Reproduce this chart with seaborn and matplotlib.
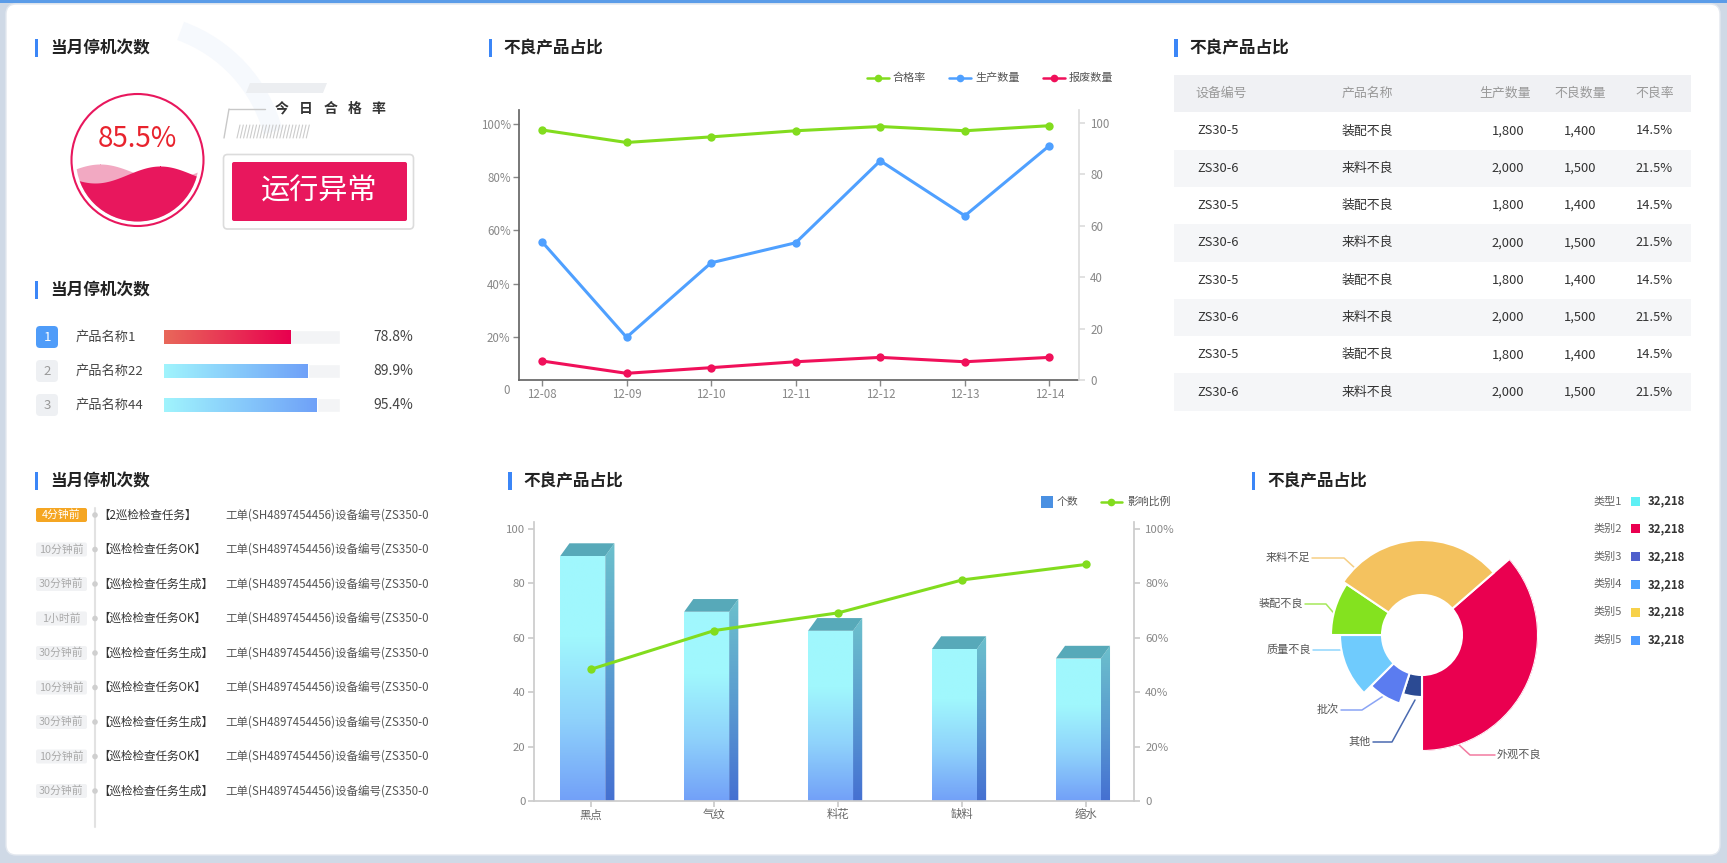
import numpy as np
import matplotlib
matplotlib.use('Agg')
import matplotlib.pyplot as plt
import seaborn as sns
from matplotlib.patches import Rectangle, FancyBboxPatch, Polygon, Circle, Arc
from matplotlib.colors import LinearSegmentedColormap

# ========== 1. 数据 ==========
pass_rate_today = 85.5
status_text = '运行异常'

rank_names = ['产品名称1', '产品名称22', '产品名称44']
rank_values = [78.8, 89.9, 95.4]

dates = ['12-08', '12-09', '12-10', '12-11', '12-12', '12-13', '12-14']
series_names = ['合格率', '生产数量', '报废数量']
pass_rate = [97.7, 93.0, 95.1, 97.4, 99.0, 97.4, 99.3]
prod_qty = [53.8, 16.6, 45.6, 53.4, 85.3, 63.9, 91.2]
scrap_qty = [7.4, 2.6, 4.8, 7.1, 8.8, 7.1, 8.8]

table_cols = ['设备编号', '产品名称', '生产数量', '不良数量', '不良率']
device_ids = ['ZS30-5', 'ZS30-6'] * 4
product_names = ['装配不良', '来料不良'] * 4
produced = ['1,800', '2,000'] * 4
defects = ['1,400', '1,500'] * 4
defect_rates = ['14.5%', '21.5%'] * 4

log_times = ['4分钟前', '10分钟前', '30分钟前', '1小时前', '30分钟前',
             '10分钟前', '30分钟前', '10分钟前', '30分钟前']
log_tasks = ['【2巡检检查任务】', '【巡检检查任务OK】', '【巡检检查任务生成】',
             '【巡检检查任务OK】', '【巡检检查任务生成】', '【巡检检查任务OK】',
             '【巡检检查任务生成】', '【巡检检查任务OK】', '【巡检检查任务生成】']
log_detail = '工单(SH4897454456)设备编号(ZS350-0'

defect_types = ['黑点', '气纹', '料花', '缺料', '缩水']
bar_series = ['个数', '影响比例']
defect_counts = [90.1, 69.6, 62.6, 55.9, 52.4]
impact_ratio = [48.4, 62.7, 69.2, 81.3, 87.0]

rose_names = ['外观不良', '其他', '批次', '质量不良', '装配不良', '来料不足']
rose_share = [131, 18, 27, 45, 34, 105]
rose_radius_value = [116, 62, 72, 82, 91, 95]

legend_names = ['类型1', '类别2', '类别3', '类别4', '类别5', '类别5']
legend_values = ['32,218'] * 6

# ========== 2. 样式 ==========
GREEN = '#82dc1e'
BLUE = '#4fa0ff'
RED = '#f0105a'
CRIMSON = '#e8175d'
rose_colors = ['#ea0050', '#2b4a93', '#5b7cf0', '#6fcbfd', '#84e21f', '#f4c25f']
rose_lead_colors = ['#f27aa0', '#4a6ab0', '#8aa4f5', '#8fd6fd', '#a5e85a', '#f6cf85']
legend_colors = ['#5ef0f5', '#ea0050', '#4f5fcc', '#4da3ff', '#f7d14a', '#4d9bff']

sns.set_theme(style='white')
plt.rcParams['font.family'] = ['Noto Sans CJK SC', 'DejaVu Sans']
plt.rcParams['axes.unicode_minus'] = False

W, H = 1727, 863
fig = plt.figure(figsize=(W / 100, H / 100), dpi=100)
fig.patch.set_facecolor('#cfd9e6')


def frac(x0, y0, x1, y1):
    return [x0 / W, 1 - y1 / H, (x1 - x0) / W, (y1 - y0) / H]


def gradient(ax, clip, extent, colors, vertical=True, z=2):
    cmap = LinearSegmentedColormap.from_list('g', colors)
    ramp = np.linspace(0, 1, 256)
    img = ramp.reshape(-1, 1) if vertical else ramp.reshape(1, -1)
    im = ax.imshow(img, cmap=cmap, extent=extent, origin='lower',
                   aspect='auto', zorder=z, interpolation='bilinear')
    im.set_clip_path(clip)
    return im


bg = fig.add_axes([0, 0, 1, 1])
bg.set_xlim(0, W)
bg.set_ylim(H, 0)
bg.axis('off')
bg.add_patch(FancyBboxPatch((6, 4), W - 13, H - 12, boxstyle='round,pad=0,rounding_size=10',
                            fc='white', ec='#e3e8ef', lw=1))
bg.add_patch(Rectangle((0, 0), W, 3, fc='#5b9ce8', ec='none'))


def panel_title(x, y, text):
    bg.add_patch(Rectangle((x, y - 9), 3.5, 18, fc='#3b86f7', ec='none'))
    bg.text(x + 15, y, text, fontsize=12, weight='bold', color='#222', va='center', ha='left')


panel_title(35, 48, '当月停机次数')
panel_title(35, 290, '当月停机次数')
panel_title(35, 481, '当月停机次数')
panel_title(488.6, 48, '不良产品占比')
panel_title(508.5, 481, '不良产品占比')
panel_title(1174.5, 48, '不良产品占比')
panel_title(1252, 481, '不良产品占比')

# ========== 3. 今日合格率 ==========
bg.add_patch(Arc((130, 170), 296, 296, theta1=290, theta2=345, color='#f6f9fd', lw=14))
cx, cy = 137.5, 160
bg.add_patch(Circle((cx, cy), 66, fill=False, ec=CRIMSON, lw=1.5))
inner = Circle((cx, cy), 61.5, fc='none', ec='none')
bg.add_patch(inner)
xs = np.linspace(cx - 66, cx + 66, 300)
wave_back = 172 - 8 * np.cos(2 * np.pi * (xs - 100) / 130)
wave_front = 174.5 - 8.5 * np.cos(2 * np.pi * (xs - 160) / 130)
f1 = bg.fill_between(xs, wave_back, cy + 70, color='#f2a9c2', lw=0)
f2 = bg.fill_between(xs, wave_front, cy + 70, color=CRIMSON, lw=0)
f1.set_clip_path(inner)
f2.set_clip_path(inner)
bg.text(cx, 139, f'{pass_rate_today}%', fontsize=20, color='#e8232d', ha='center', va='center')

bg.add_patch(Polygon([(250, 83), (327, 83), (323, 93), (246, 93)], fc='#eceef1', ec='none'))
bg.plot([229, 265], [109, 109], color='#c8c8c8', lw=1)
bg.plot([229, 224], [109, 138], color='#c8c8c8', lw=1)
for i in range(22):
    hx = 237 + 3.3 * i
    bg.plot([hx, hx + 3], [138, 125], color='#cccccc', lw=0.8)
for i, ch in enumerate('今日合格率'):
    bg.text(282 + 24.2 * i, 109, ch, fontsize=10, weight='bold', color='#333', ha='center', va='center')
bg.add_patch(FancyBboxPatch((223.5, 154.5), 190, 74.5, boxstyle='round,pad=0,rounding_size=4',
                            fill=False, ec='#dcdcdc', lw=1.2))
bg.add_patch(FancyBboxPatch((232, 162), 175, 59, boxstyle='round,pad=0,rounding_size=2',
                            fc=CRIMSON, ec='none'))
bg.text(319.5, 192, status_text, fontsize=21, color='white', ha='center', va='center')

# ========== 4. 产品排行进度条 ==========
axr = fig.add_axes(frac(164, 320, 340, 422))
sns.barplot(x=[110] * len(rank_names), y=rank_names, ax=axr, width=0.41, color='#f3f4f6', orient='h')
sns.barplot(x=rank_values, y=rank_names, ax=axr, width=0.41, color='#cccccc', orient='h')
value_bars = axr.patches[len(rank_names):]
for i, p in enumerate(value_bars):
    cols = ['#e8685a', '#e8004f'] if i == 0 else ['#a0f4fd', '#6fa1f8']
    gradient(axr, p, (p.get_x(), p.get_x() + p.get_width(), p.get_y(), p.get_y() + p.get_height()),
             cols, vertical=False, z=3)
    p.set_facecolor('none')
axr.set_xlim(0, 110)
axr.set_ylim(len(rank_names) - 0.5, -0.5)
axr.axis('off')
for i, (name, val) in enumerate(zip(rank_names, rank_values)):
    ry = 337 + 34 * i
    bg.add_patch(FancyBboxPatch((36, ry - 11), 22, 22, boxstyle='round,pad=0,rounding_size=4',
                                fc='#4f9cf9' if i == 0 else '#eef0f3', ec='none'))
    bg.text(47, ry, str(i + 1), fontsize=9.5, color='white' if i == 0 else '#999',
            ha='center', va='center')
    bg.text(76, ry, name, fontsize=9.5, color='#444', ha='left', va='center')
    bg.text(413, ry, f'{val}%', fontsize=10, color='#444', ha='right', va='center')

# ========== 5. 折线图 ==========
ax1 = fig.add_axes(frac(519, 110, 1079, 380))
ax1.patch.set_alpha(0)
x_pos = np.arange(len(dates))
sns.lineplot(x=x_pos, y=pass_rate, ax=ax1, color=GREEN, lw=2.2, marker='o', markersize=6,
             markeredgewidth=0)
ax1.set_xlim(-0.272, 6.35)
# 左轴的 0 落在 x 轴线下方约 10px
ax1.set_ylim(3.76, 105.2)
ax1.set_yticks([20, 40, 60, 80, 100], [f'{v}%' for v in [20, 40, 60, 80, 100]])
ax1.set_xticks(x_pos, dates)
ax1.text(-0.017, 0, '0', transform=ax1.get_yaxis_transform(), ha='right', va='center',
         fontsize=8.3, color='#888', clip_on=False)
ax2 = ax1.twinx()
sns.lineplot(x=x_pos, y=prod_qty, ax=ax2, color=BLUE, lw=2.2, marker='o', markersize=6,
             markeredgewidth=0)
sns.lineplot(x=x_pos, y=scrap_qty, ax=ax2, color=RED, lw=2.2, marker='o', markersize=6,
             markeredgewidth=0)
ax2.set_ylim(0, 105.06)
ax2.set_yticks([0, 20, 40, 60, 80, 100])
for a in (ax1, ax2):
    a.set_xlabel('')
    a.set_ylabel('')
    a.spines['top'].set_visible(False)
ax1.spines['right'].set_visible(False)
ax1.spines['left'].set_color('#666')
ax1.spines['bottom'].set_color('#666')
ax2.spines['left'].set_visible(False)
ax2.spines['bottom'].set_visible(False)
ax2.spines['right'].set_color('#dddddd')
ax1.tick_params(axis='both', labelsize=8.3, labelcolor='#888', color='#888', length=4, width=1,
                direction='out', pad=2, left=True, bottom=True)
ax2.tick_params(axis='y', labelsize=8.3, labelcolor='#888', color='#dddddd', length=4,
                direction='out', pad=4, right=True)
for name, col, lx in zip(series_names, [GREEN, BLUE, RED], [867, 949.5, 1043]):
    bg.plot([lx, lx + 22], [78, 78], color=col, lw=1.8)
    bg.plot(lx + 11, 78, 'o', color=col, ms=5.5, mew=0)
    bg.text(lx + 26, 78, name, fontsize=8, color='#555', va='center', ha='left')

# ========== 6. 表格 ==========
bg.add_patch(Rectangle((1174, 75), 517, 37, fc='#f0f1f4', ec='none'))
head_x = [1195, 1342, 1531, 1606, 1674]
data_x = [1197, 1342, 1524, 1596, 1673]
col_ha = ['left', 'left', 'right', 'right', 'right']
for hx, ha, name in zip(head_x, col_ha, table_cols):
    bg.text(hx, 93.5, name, fontsize=9.3, color='#999', ha=ha, va='center')
rows = list(zip(device_ids, product_names, produced, defects, defect_rates))
for i, row in enumerate(rows):
    ry = 131 + 37.3 * i
    if i % 2 == 1:
        bg.add_patch(Rectangle((1174, ry - 18.65), 517, 37.3, fc='#f5f6f8', ec='none'))
    for dx, ha, val in zip(data_x, col_ha, row):
        bg.text(dx, ry, val, fontsize=9.3, color='#333', ha=ha, va='center')

# ========== 7. 巡检记录 ==========
bg.plot([95, 95], [508, 827], color='#e2e2e2', lw=1.5, zorder=1)
for i, (t, task) in enumerate(zip(log_times, log_tasks)):
    ry = 515 + 34.5 * i
    bg.add_patch(FancyBboxPatch((36, ry - 7), 51, 14, boxstyle='round,pad=0,rounding_size=2',
                                fc='#f5a623' if i == 0 else '#f1f2f4', ec='none'))
    bg.text(61.5, ry, t, fontsize=7.8, color='white' if i == 0 else '#aaa', ha='center', va='center')
    bg.add_patch(Circle((95, ry), 2.8, fc='#cfcfcf', ec='none', zorder=2))
    bg.text(98, ry, task, fontsize=8.3, color='#333', ha='left', va='center')
    bg.text(225, ry, log_detail, fontsize=8.3, color='#555', ha='left', va='center')

# ========== 8. 柱状图 ==========
ax3 = fig.add_axes(frac(533.7, 522, 1134, 801))
ax3.patch.set_alpha(0)
cat_pos = np.arange(len(defect_types))
sns.barplot(x=cat_pos, y=defect_counts, ax=ax3, width=0.363, color='#8ccafa')
dx3, dy3 = 0.074, 4.67
for p in list(ax3.patches):
    p.set_x(p.get_x() - 0.063)
    x0, w, h = p.get_x(), p.get_width(), p.get_height()
    r = x0 + w
    gradient(ax3, p, (x0, r, 0, h), ['#72a0f8', '#8fd2fb', '#a0f7fd', '#a0f8fd'], z=2)
    p.set_facecolor('none')
    p.set_edgecolor('none')
    side = Polygon([(r, 0), (r, h), (r + dx3, h + dy3), (r + dx3, 0)], fc='none', ec='none')
    ax3.add_patch(side)
    gradient(ax3, side, (r, r + dx3, 0, h + dy3), ['#4570d2', '#5a9cd0', '#6cc0cc'], z=2)
    ax3.add_patch(Polygon([(x0, h), (r, h), (r + dx3, h + dy3), (x0 + dx3, h + dy3)],
                          fc='#57a9b9', ec='none', zorder=2))
ax3.set_xlim(-0.459, 4.386)
ax3.set_ylim(0, 102.6)
ax3.set_xticks(cat_pos, defect_types)
ax3.set_yticks([0, 20, 40, 60, 80, 100])
ax4 = ax3.twinx()
sns.lineplot(x=cat_pos, y=impact_ratio, ax=ax4, color=GREEN, lw=2.2, marker='o', markersize=6,
             markeredgewidth=0)
ax4.set_ylim(0, 102.6)
ax4.set_yticks([0, 20, 40, 60, 80, 100], ['0', '20%', '40%', '60%', '80%', '100%'])
for a in (ax3, ax4):
    a.set_xlabel('')
    a.set_ylabel('')
    a.spines['top'].set_visible(False)
    for s in a.spines.values():
        s.set_color('#cccccc')
ax3.spines['right'].set_visible(False)
ax4.spines['left'].set_visible(False)
ax4.spines['bottom'].set_visible(False)
ax3.tick_params(axis='both', labelsize=8.2, labelcolor='#888', color='#cccccc', length=4,
                direction='out', pad=2, left=True, bottom=True)
ax3.tick_params(axis='x', labelcolor='#666')
ax4.tick_params(axis='y', labelsize=8.2, labelcolor='#888', color='#cccccc', length=4,
                direction='out', pad=4, right=True)
bg.add_patch(Rectangle((1041, 496), 12, 12, fc='#4a90e2', ec='none'))
bg.text(1057, 502, bar_series[0], fontsize=7.8, color='#555', va='center', ha='left')
bg.plot([1101, 1122], [502, 502], color=GREEN, lw=1.8)
bg.plot(1111.5, 502, 'o', color=GREEN, ms=5.5, mew=0)
bg.text(1127, 502, bar_series[1], fontsize=7.8, color='#555', va='center', ha='left')

# ========== 9. 玫瑰图 ==========
pcx, pcy, r0 = 1422, 635, 40
R = max(rose_radius_value)
axp = fig.add_axes(frac(pcx - R, pcy - R, pcx + R, pcy + R), projection='polar')
axp.set_theta_zero_location('N')
axp.set_theta_direction(-1)
spans = np.deg2rad(np.array(rose_share) / sum(rose_share) * 360)
starts = np.deg2rad(49) + np.concatenate([[0], np.cumsum(spans)[:-1]])
axp.bar(starts, np.array(rose_radius_value) - r0, width=spans, bottom=r0, align='edge',
        color=rose_colors, edgecolor='white', linewidth=1.5)
axp.set_rlim(0, R)
axp.axis('off')
axp.patch.set_alpha(0)

lead_pts = [
    [(1495, 755), (1470, 755), (1458, 744)],
    [(1373, 742), (1392, 742), (1415, 700)],
    [(1341, 710), (1362, 710), (1385, 695)],
    [(1313, 650), (1346, 650), (1350, 657)],
    [(1305, 604), (1326, 604), (1338, 618)],
    [(1312, 558), (1344, 558), (1356, 569)],
]
for name, pts, col in zip(rose_names, lead_pts, rose_lead_colors):
    bg.plot([p[0] for p in pts], [p[1] for p in pts], color=col, lw=1.1)
    left = pts[1][0] < pts[0][0]
    bg.text(pts[0][0] + (2 if left else -2), pts[0][1], name, fontsize=8, color='#555',
            ha='left' if left else 'right', va='center')

for i, (name, col, val) in enumerate(zip(legend_names, legend_colors, legend_values)):
    ly = 501 + 27.8 * i
    bg.text(1622, ly, name, fontsize=8, color='#666', ha='right', va='center')
    bg.add_patch(Rectangle((1631, ly - 4.5), 9, 9, fc=col, ec='none'))
    bg.text(1648, ly, val, fontsize=8.2, weight='bold', color='#333', ha='left', va='center')

fig.savefig('out.png', dpi=100, facecolor=fig.get_facecolor())
